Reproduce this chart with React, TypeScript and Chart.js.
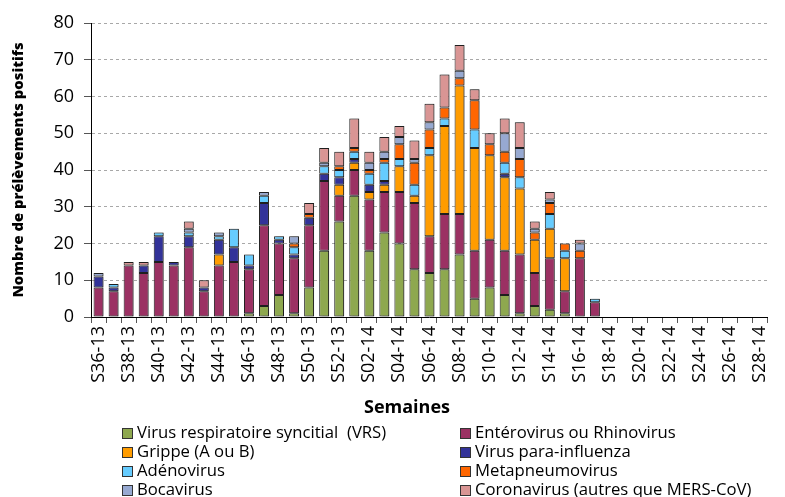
import React, { useEffect, useRef } from "react";
import { Chart, registerables } from "chart.js";

Chart.register(...registerables);

const categories = [
  "S36-13", "S37-13", "S38-13", "S39-13", "S40-13", "S41-13", "S42-13", "S43-13", "S44-13",
  "S45-13", "S46-13", "S47-13", "S48-13", "S49-13", "S50-13", "S51-13", "S52-13",
  "S01-14", "S02-14", "S03-14", "S04-14", "S05-14", "S06-14", "S07-14", "S08-14", "S09-14",
  "S10-14", "S11-14", "S12-14", "S13-14", "S14-14", "S15-14", "S16-14", "S17-14", "S18-14",
  "S19-14", "S20-14", "S21-14", "S22-14", "S23-14", "S24-14", "S25-14", "S26-14", "S27-14", "S28-14",
];

const vrs = [0, 0, 0, 0, 0, 0, 0, 0, 0, 0, 1, 3, 6, 1, 8, 18, 26, 33, 18, 23, 20, 13, 12, 13, 17, 5, 8, 6, 1, 3, 2, 1, 0, 0, 0, 0, 0, 0, 0, 0, 0, 0, 0, 0, 0];
const entero = [8, 7, 14, 12, 15, 14, 19, 7, 14, 15, 12, 22, 14, 15, 17, 19, 7, 7, 14, 11, 14, 18, 10, 15, 11, 13, 13, 12, 16, 9, 14, 6, 16, 4, 0, 0, 0, 0, 0, 0, 0, 0, 0, 0, 0];
const grippe = [0, 0, 0, 0, 0, 0, 0, 0, 3, 0, 0, 0, 0, 0, 0, 0, 3, 2, 2, 2, 7, 2, 22, 24, 35, 28, 23, 20, 18, 9, 8, 9, 0, 0, 0, 0, 0, 0, 0, 0, 0, 0, 0, 0, 0];
const paraInfluenza = [3, 1, 0, 2, 7, 1, 3, 1, 4, 4, 1, 6, 1, 1, 2, 2, 2, 1, 2, 1, 0, 0, 0, 0, 0, 0, 0, 1, 0, 0, 0, 0, 0, 0, 0, 0, 0, 0, 0, 0, 0, 0, 0, 0, 0];
const adeno = [0, 1, 0, 0, 1, 0, 1, 0, 1, 5, 3, 2, 1, 2, 0, 2, 2, 2, 3, 5, 2, 3, 2, 2, 0, 5, 0, 3, 3, 0, 4, 2, 0, 1, 0, 0, 0, 0, 0, 0, 0, 0, 0, 0, 0];
const metapneumo = [0, 0, 0, 0, 0, 0, 0, 0, 0, 0, 0, 0, 0, 1, 1, 0, 1, 1, 1, 1, 4, 6, 5, 3, 2, 8, 3, 3, 5, 2, 3, 2, 2, 0, 0, 0, 0, 0, 0, 0, 0, 0, 0, 0, 0];
const boca = [1, 0, 0, 0, 0, 0, 1, 0, 1, 0, 0, 1, 0, 2, 0, 1, 0, 0, 2, 2, 2, 1, 2, 0, 2, 0, 0, 5, 3, 1, 1, 0, 2, 0, 0, 0, 0, 0, 0, 0, 0, 0, 0, 0, 0];
const corona = [0, 0, 1, 1, 0, 0, 2, 2, 0, 0, 0, 0, 0, 0, 3, 4, 4, 8, 3, 4, 3, 5, 5, 9, 7, 3, 3, 4, 7, 2, 2, 0, 1, 0, 0, 0, 0, 0, 0, 0, 0, 0, 0, 0, 0];

const seriesNames = [
  "Virus respiratoire syncitial  (VRS)",
  "Entérovirus ou Rhinovirus",
  "Grippe (A ou B)",
  "Virus para-influenza",
  "Adénovirus",
  "Metapneumovirus",
  "Bocavirus",
  "Coronavirus (autres que MERS-CoV)",
];
const seriesData = [vrs, entero, grippe, paraInfluenza, adeno, metapneumo, boca, corona];
const seriesColors = ["#8ea84f", "#9b3163", "#ff9c00", "#333399", "#66ccff", "#ff6600", "#97a9d1", "#d99594"];

const yTicks = [0, 10, 20, 30, 40, 50, 60, 70, 80];
const xTitle = "Semaines";
const yTitle = "Nombre de prélèvements positifs";

const FONT = "'Open Sans', 'DejaVu Sans', sans-serif";

const shadowPlugin = {
  id: "barShadow",
  beforeDatasetsDraw(chart: any) {
    const ctx = chart.ctx;
    ctx.save();
    ctx.shadowColor = "rgba(0,0,0,0.35)";
    ctx.shadowBlur = 2;
    ctx.shadowOffsetX = 1.5;
    ctx.shadowOffsetY = 0;
  },
  afterDatasetsDraw(chart: any) {
    chart.ctx.restore();
  },
};

const legendPlugin = {
  id: "gridLegend",
  afterDraw(chart: any) {
    const ctx = chart.ctx;
    const colX = [122, 460];
    const rowY = [433, 452, 471, 490];
    ctx.save();
    // x axis title
    ctx.font = `bold 18px ${FONT}`;
    ctx.fillStyle = "#000";
    ctx.textAlign = "center";
    ctx.textBaseline = "middle";
    ctx.fillText(xTitle, 407, 408);

    ctx.font = `16.7px ${FONT}`;
    ctx.textBaseline = "middle";
    ctx.textAlign = "left";
    chart.data.datasets.forEach((ds: any, i: number) => {
      const col = i % 2;
      const row = Math.floor(i / 2);
      const x = colX[col];
      const y = rowY[row];
      ctx.fillStyle = ds.backgroundColor;
      ctx.fillRect(x, y - 5, 10, 10);
      ctx.strokeStyle = "#333";
      ctx.lineWidth = 1;
      ctx.strokeRect(x + 0.5, y - 5 + 0.5, 10, 10);
      ctx.fillStyle = "#000";
      ctx.fillText(ds.label, x + 15, y);
    });
    ctx.restore();
  },
};

export default function App() {
  const canvasRef = useRef<HTMLCanvasElement | null>(null);

  useEffect(() => {
    const canvas = canvasRef.current;
    if (!canvas) return;
    const chart = new Chart(canvas, {
      type: "bar",
      data: {
        labels: categories,
        datasets: seriesNames.map((name, i) => ({
          label: name,
          data: seriesData[i],
          backgroundColor: seriesColors[i],
          borderColor: "#222",
          borderWidth: 1,
          borderSkipped: false,
          categoryPercentage: 1,
          barPercentage: 0.66,
        })),
      },
      plugins: [shadowPlugin, legendPlugin],
      options: {
        animation: false,
        responsive: false,
        devicePixelRatio: 1,
        layout: { padding: { left: 0, right: 3, top: 23, bottom: 80 } },
        plugins: {
          legend: { display: false },
          tooltip: { enabled: false },
        },
        scales: {
          x: {
            stacked: true,
            offset: true,
            grid: {
              offset: true,
              drawOnChartArea: false,
              drawTicks: true,
              tickLength: 6,
              tickColor: "#555",
            },
            border: { color: "#000", width: 1 },
            ticks: {
              autoSkip: false,
              maxRotation: 90,
              minRotation: 90,
              padding: 3,
              color: "#000",
              font: { family: FONT, size: 18 },
              callback: (_v: any, i: number) => (i % 2 === 0 ? categories[i] : ""),
            },
            title: { display: false },
            afterFit: (s: any) => {
              s.height = 100;
            },
          },
          y: {
            stacked: true,
            min: 0,
            max: 80,
            afterBuildTicks: (s: any) => {
              s.ticks = yTicks.map((v) => ({ value: v }));
            },
            grid: {
              color: (c: any) => (c.tick && c.tick.value === 0 ? "rgba(0,0,0,0)" : "#a8a8a8"),
              tickColor: "#555",
              tickLength: 7,
              tickBorderDash: [],
            },
            border: { color: "#000", width: 1, dash: [3, 3] },
            ticks: {
              color: "#000",
              padding: 10,
              font: { family: FONT, size: 18 },
            },
            title: {
              display: true,
              text: yTitle,
              color: "#000",
              font: { family: FONT, size: 14.8, weight: 800 },
              padding: { top: 10, bottom: 0 },
            },
            afterFit: (s: any) => {
              s.width = 91;
            },
          },
        },
      },
    } as any);
    return () => chart.destroy();
  }, []);

  return (
    <div style={{ position: "absolute", left: 0, top: 0, width: 785, height: 497, background: "#fff" }}>
      <canvas ref={canvasRef} width={785} height={497} />
    </div>
  );
}
